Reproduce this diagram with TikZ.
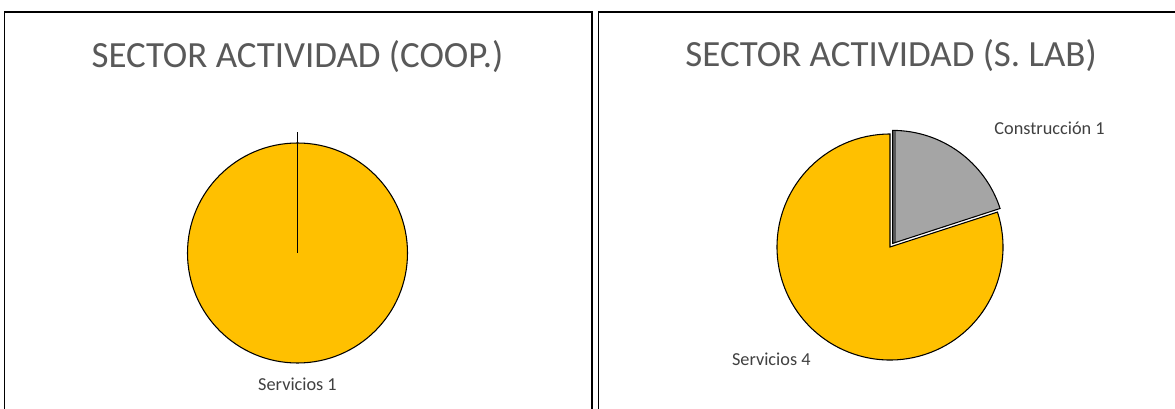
\documentclass[tikz,border=0pt]{standalone}
\usepackage{fontspec}
\setmainfont{Carlito}
\definecolor{pieyellow}{HTML}{FFC000}
\definecolor{piegray}{HTML}{A5A5A5}
\definecolor{bandgray}{HTML}{5A5A5A}
\definecolor{titlegray}{HTML}{595959}
\definecolor{labelgray}{HTML}{404040}
\tikzset{
  panel/.style={draw=black, line width=1.3pt},
  charttitle/.style={anchor=base, inner sep=0pt, text=titlegray, font=\fontsize{27.7}{32}\selectfont},
  datalabel/.style={anchor=base, inner sep=0pt, text=labelgray, font=\fontsize{13.7}{16}\selectfont},
  slice/.style={draw=black, line width=0.8pt}
}
\begin{document}
\begin{tikzpicture}[x=0.75pt,y=0.75pt]
\useasboundingbox (0,0) rectangle (1175,408);
\fill[white] (0,0) rectangle (1175,408);
\begin{scope}
  \clip (0,0) rectangle (1175,408);
  \draw[panel] (4.5,396) rectangle (592,-20);
  \draw[panel] (598.5,396) rectangle (1200,-20);
\end{scope}

% ---- left chart ----
\node[charttitle] (t1) at (297.5,340.7) {SECTOR ACTIVIDAD (COOP.)};
\coordinate (c1) at (297.5,155);
\coordinate (c1top) at (297.5,275.7);
\filldraw[slice, fill=pieyellow] (c1) circle (110);
\draw[line width=1pt] (c1) -- (c1top);
\node[datalabel] (l1) at (297.5,17.3) {Servicios 1};

% ---- right chart ----
\node[charttitle] (t2) at (891.2,341.3) {SECTOR ACTIVIDAD (S. LAB)};
\coordinate (c2) at (890,161);
\coordinate (g2) at (892.6,164.6);
\filldraw[slice, fill=pieyellow] (c2) -- ++(18:113) arc[start angle=18, end angle=-270, radius=113] -- cycle;
\fill[piegray] (g2) -- ++(18:113) arc[start angle=18, end angle=90, radius=113] -- cycle;
\begin{scope}
  \clip (g2) -- ++(18:113) arc[start angle=18, end angle=90, radius=113] -- cycle;
  \fill[bandgray] (g2) ++(0,-2) rectangle ++(3.5,118);
\end{scope}
\draw[slice] (g2) -- ++(18:113) arc[start angle=18, end angle=90, radius=113] -- cycle;
\node[datalabel] (l2) at (1049.6,274) {Construcción 1};
\node[datalabel] (l3) at (771.3,43) {Servicios 4};
\end{tikzpicture}
\end{document}
